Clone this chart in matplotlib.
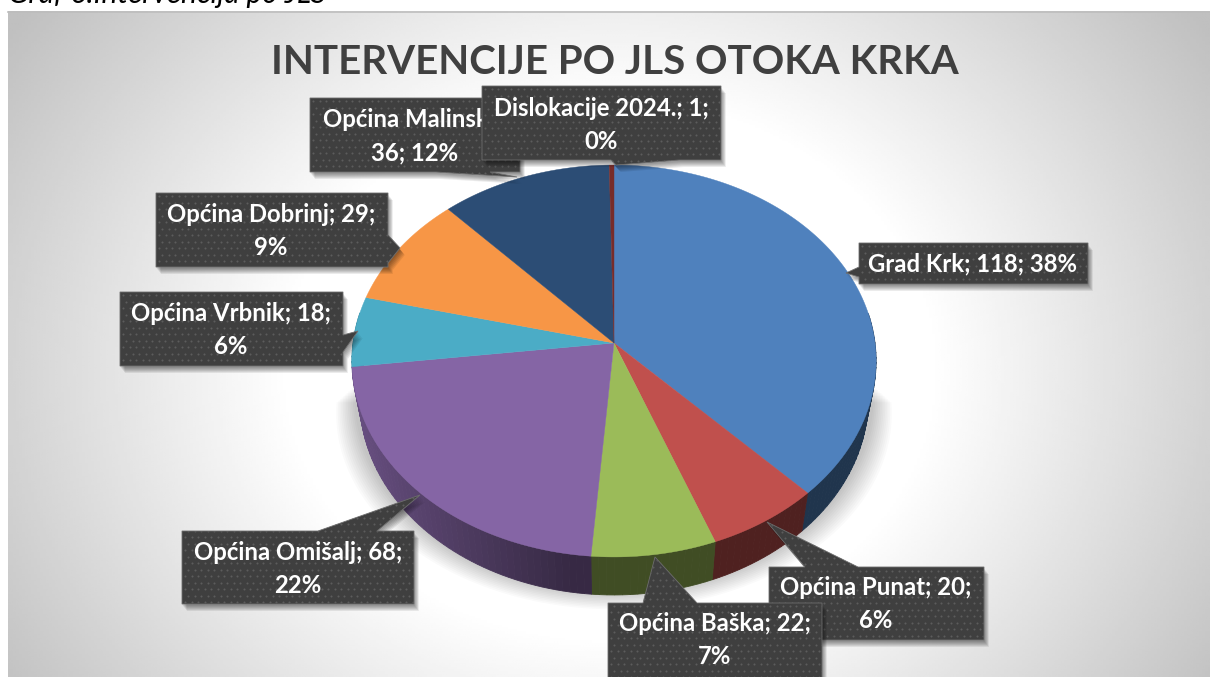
import numpy as np
import matplotlib
matplotlib.use("Agg")
import matplotlib.pyplot as plt
from matplotlib.patches import Polygon

# ---- data ----
categories = ["Grad Krk", "Općina Punat", "Općina Baška", "Općina Omišalj",
              "Općina Vrbnik", "Općina Dobrinj", "Općina Malinska", "Dislokacije 2024."]
values = [118, 20, 22, 68, 18, 29, 36, 1]
colors = ["#4f81bd", "#c0504d", "#9bbb59", "#8565a5", "#4bacc6", "#f79646", "#2c4d75", "#772c2a"]
title = "INTERVENCIJE PO JLS OTOKA KRKA"
caption = "Graf 6.Intervencija po JLS"
label_lines = [
    "{c}; {v}; {p}%", "{c}; {v};\n{p}%", "{c}; {v};\n{p}%", "{c}; {v};\n{p}%",
    "{c}; {v};\n{p}%", "{c}; {v};\n{p}%", "{c};\n{v}; {p}%", "{c}; {v};\n{p}%",
]

# ---- layout (pixels) ----
W, H = 1210, 677
CX, CY = 614, 343
K, B, A = 261.0, 194.3, 0.0918
DEPTH, BOTTOM_X = 38, 0.97

boxes = {  # x0, y0, x1, y1, pointer tip, pointer base a, pointer base b, text centre x, y
    "Grad Krk": (859, 243, 1088, 284, (846, 273), (859, 267), (859, 277), 972, 264),
    "Općina Punat": (769, 567, 984, 640, (767, 522), (805, 567), (858, 567), 876, 604),
    "Općina Omišalj": (182, 531, 414, 604, (420, 495), (318, 531), (377, 531), 298, 569),
    "Općina Vrbnik": (120, 292, 343, 366, (358, 331), (343, 335), (343, 352), 231, 330),
    "Općina Dobrinj": (156, 193, 388, 267, (400, 248), (388, 235), (388, 263), 271, 231),
    "Općina Malinska": (310, 98, 520, 172, (517, 177), (436, 172), (490, 172), 415, 136),
    "Dislokacije 2024.": (482, 86, 721, 160, (616, 165), (611, 160), (679, 160), 601, 125),
    "Općina Baška": (608, 603, 822, 680, (655, 557), (643, 603), (697, 603), 715, 640),
}

fig = plt.figure(figsize=(W / 100, H / 100), dpi=100, facecolor="white")
ax = fig.add_axes([0, 0, 1, 1])
ax.set_xlim(0, W)
ax.set_ylim(H, 0)
ax.axis("off")

# ---- background ----
xx, yy = np.meshgrid(np.linspace(8, W, 400), np.linspace(11, H, 300))
d = np.sqrt(((xx - 610) / 600) ** 2 + ((yy - 370) / 500) ** 2) / np.sqrt(2)
t = np.clip((d - 0.38) / 0.48, 0, 1)
ax.imshow(1 - 0.25 * t, extent=(8, W, H, 11), cmap="gray", vmin=0, vmax=1,
          aspect="auto", zorder=0, interpolation="bilinear")
ax.plot([8, W], [11.5, 11.5], color="#bdbdbd", lw=1.2, zorder=1)


def rim(theta):
    """Perspective projection of a unit circle; theta clockwise from the top."""
    u, v = np.sin(theta), np.cos(theta)
    w = 1 + A * v
    return CX + K * u / w, CY - B * v / w


# ---- shadow under the pie ----
th = np.linspace(np.radians(92), np.radians(268), 120)
for s in np.linspace(1.06, 0.99, 12):
    x, y = rim(th)
    ax.fill(CX + (x - CX) * s, y + 38 + (s - 1) * 240, color="black", alpha=0.018, lw=0, zorder=2)

# ---- pie ----
vals = np.array(values, float)
edges = np.concatenate([[0], np.cumsum(vals)]) / vals.sum() * 2 * np.pi

# side wall
for i, c in enumerate(colors):
    seq = np.linspace(edges[i], edges[i + 1], max(2, int((edges[i + 1] - edges[i]) * 40)))
    for a, b in zip(seq[:-1], seq[1:]):
        if np.cos((a + b) / 2) > 0.15:
            continue
        arc = np.linspace(a, b, 4)
        x, y = rim(arc)
        xb, yb = CX + (x - CX) * BOTTOM_X, y + DEPTH
        u = np.sin((a + b) / 2)
        f = 0.41 + 0.36 * np.clip((-u - 0.15) / 0.8, 0, 1)
        col = tuple(f * np.array(matplotlib.colors.to_rgb(c)))
        ax.fill(np.r_[x, xb[::-1]], np.r_[y, yb[::-1]], color=col, ec=col, lw=0.6, zorder=3)

# top surface
for i, c in enumerate(colors):
    arc = np.linspace(edges[i], edges[i + 1], max(2, int((edges[i + 1] - edges[i]) * 60)))
    x, y = rim(arc)
    ax.fill(np.r_[CX, x], np.r_[CY, y], color=c, lw=0.3, zorder=4)

# ---- data labels ----
total = vals.sum()
z = 6
for name in boxes:
    i = categories.index(name)
    x0, y0, x1, y1, tip, ba, bb, tx, ty = boxes[name]
    if ba[1] == bb[1] == y0:
        pts = [(x0, y0), ba, tip, bb, (x1, y0), (x1, y1), (x0, y1)]
    elif ba[1] == bb[1] == y1:
        pts = [(x0, y0), (x1, y0), (x1, y1), bb, tip, ba, (x0, y1)]
    elif ba[0] == bb[0] == x1:
        pts = [(x0, y0), (x1, y0), ba, tip, bb, (x1, y1), (x0, y1)]
    else:
        pts = [(x0, y0), (x1, y0), (x1, y1), (x0, y1), bb, tip, ba]
    for off in np.linspace(1, 6, 6):
        ax.add_patch(Polygon([(px + off * 0.8, py + off + 1) for px, py in pts],
                             closed=True, fc="black", ec="none", alpha=0.08, zorder=z))
    poly = Polygon(pts, closed=True, fc="#3f3f3f", ec="#6e6e6e", lw=0.6, zorder=z + 0.1)
    ax.add_patch(poly)
    gx, gy = np.meshgrid(np.arange(x0 + 3, x1, 6.5), np.arange(min(y0, tip[1]) + 3, max(y1, tip[1]), 6.5))
    gx2 = gx + (np.arange(gx.shape[0])[:, None] % 2) * 3.25
    dots = ax.scatter(gx2.ravel(), gy.ravel(), s=2.2, c="#5c5c5c", lw=0, zorder=z + 0.2)
    dots.set_clip_path(poly)
    txt = label_lines[i].format(c=name, v=values[i], p=round(values[i] / total * 100))
    ax.text(tx, ty, txt, ha="center", va="center", color="white", fontsize=17.2,
            fontweight="bold", family="Lato", linespacing=1.55, zorder=z + 0.3)
    z += 1

# ---- title and caption ----
ax.text(615, 63, title, ha="center", va="center", color="#404040", fontsize=29,
        fontweight="bold", family="Lato", zorder=5)
ax.text(8, 3, caption, ha="left", va="baseline", color="black", fontsize=21.5,
        style="italic", family="Lato", zorder=5, clip_on=False)

fig.savefig("out.png", dpi=100)
